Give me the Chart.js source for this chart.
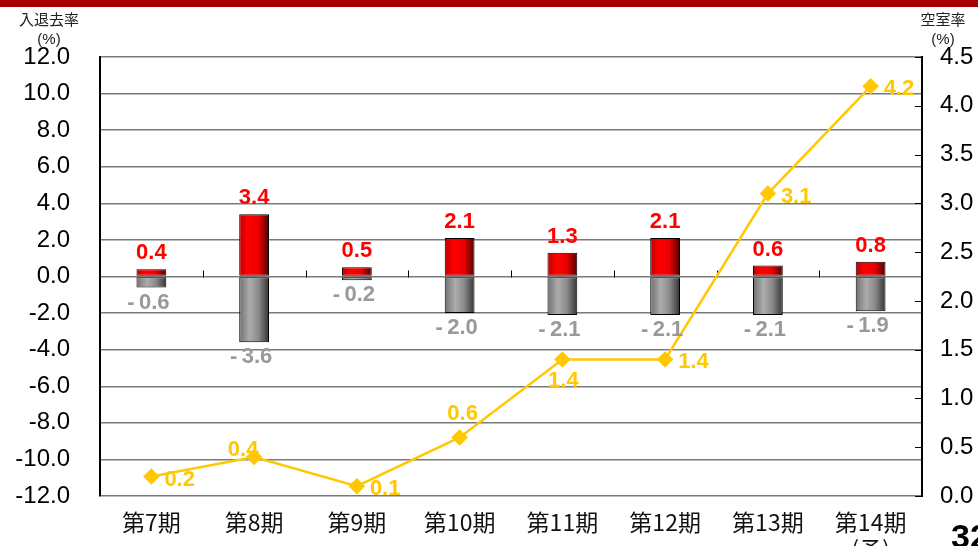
<!DOCTYPE html>
<html><head><meta charset="utf-8">
<script src="https://cdn.jsdelivr.net/npm/chart.js@4"></script>
<style>
html,body{margin:0;padding:0;background:#fff;overflow:hidden}
#wrap{position:relative;width:978px;height:546px}
#topbar{position:absolute;left:0;top:0;width:978px;height:7px;background:#a80000;z-index:2}
canvas{position:absolute;left:0;top:0}
</style></head>
<body><div id="wrap"><div id="topbar"></div><canvas id="c" width="978" height="546"></canvas></div>
<script>
const categories = ['第7期','第8期','第9期','第10期','第11期','第12期','第13期',['第14期','(予)']];
const moveInRates = [0.4, 3.4, 0.5, 2.1, 1.3, 2.1, 0.6, 0.8];
const moveOutRates = [-0.6, -3.6, -0.2, -2.0, -2.1, -2.1, -2.1, -1.9];
const vacancyRates = [0.2, 0.4, 0.1, 0.6, 1.4, 1.4, 3.1, 4.2];
const leftAxisRange = [-12, 12, 2];
const rightAxisRange = [0, 4.5, 0.5];

const lineLabelPos = ['right','aboveLeft','right','above','below','right','right','right'];
const BAR_PCT = 0.29;
const FONT = '"Liberation Sans", Arial, sans-serif';
const CJK = '"Noto Sans CJK JP", "Liberation Sans", sans-serif';

function barGradient(ctx, stops) {
  const chart = ctx.chart;
  const area = chart.chartArea;
  if (!area || ctx.dataIndex === undefined) return stops[1][1];
  const xs = chart.scales.x;
  const cx = xs.getPixelForValue(ctx.dataIndex);
  const w = (area.width / categories.length) * BAR_PCT;
  const g = chart.ctx.createLinearGradient(cx - w/2, 0, cx + w/2, 0);
  stops.forEach(s => g.addColorStop(s[0], s[1]));
  return g;
}

const extras = {
  id: 'extras',
  beforeDatasetsDraw(chart) {
    const c = chart.ctx, a = chart.chartArea;
    const y = chart.scales.y, y1 = chart.scales.y1;
    c.save();
    c.strokeStyle = '#000'; c.lineWidth = 1;
    y1.ticks.forEach(t => {
      const py = Math.round(y1.getPixelForValue(t.value)) + 0.5;
      c.beginPath(); c.moveTo(a.right - 7, py); c.lineTo(a.right, py); c.stroke();
    });
    const zy = Math.round(y.getPixelForValue(0)) + 0.5;
    for (let i = 1; i < categories.length; i++) {
      const px = Math.round(a.left + i * a.width / categories.length) + 0.5;
      c.beginPath(); c.moveTo(px, zy - 7); c.lineTo(px, zy); c.stroke();
    }
    c.restore();
  },
  afterDatasetsDraw(chart) {
    const c = chart.ctx;
    c.save();
    c.textBaseline = 'middle';
    chart.getDatasetMeta(0).data.forEach((el, i) => {
      c.font = 'bold 22px ' + FONT; c.fillStyle = '#ff0000'; c.textAlign = 'center';
      c.fillText(moveInRates[i].toFixed(1), el.x, el.y - 16);
    });
    chart.getDatasetMeta(1).data.forEach((el, i) => {
      c.font = 'bold 22px ' + FONT; c.fillStyle = '#999999'; c.textAlign = 'center';
      const v = moveOutRates[i];
      c.fillText('-\u2009' + Math.abs(v).toFixed(1), el.x - 3, el.y + 15);
    });
    chart.getDatasetMeta(2).data.forEach((el, i) => {
      c.font = 'bold 22px ' + FONT; c.fillStyle = '#FFC800';
      const t = vacancyRates[i].toFixed(1);
      const p = lineLabelPos[i];
      if (p === 'right') { c.textAlign = 'left'; c.fillText(t, el.x + 13, el.y + 3); }
      else if (p === 'aboveLeft') { c.textAlign = 'center'; c.fillText(t, el.x - 11, el.y - 7); }
      else if (p === 'above') { c.textAlign = 'center'; c.fillText(t, el.x + 3, el.y - 24); }
      else { c.textAlign = 'center'; c.fillText(t, el.x + 1, el.y + 22); }
    });
    c.restore();
  },
  afterDraw(chart) {
    const c = chart.ctx;
    c.save();
    c.fillStyle = '#222'; c.textAlign = 'center'; c.textBaseline = 'middle';
    c.font = '15px ' + CJK;
    c.fillText('入退去率', 49, 19);
    c.fillText('空室率', 943, 19);
    c.font = '15px ' + FONT;
    c.fillText('(%)', 49, 40);
    c.fillText('(%)', 943, 40);
    c.fillStyle = '#000'; c.textAlign = 'left'; c.textBaseline = 'top';
    c.font = 'bold 34px ' + FONT;
    c.fillText('32', 951, 522);
    c.restore();
  }
};

new Chart(document.getElementById('c'), {
  type: 'bar',
  data: {
    labels: categories,
    datasets: [
      { label: '入居率', data: moveInRates, stack: 's', yAxisID: 'y', order: 2,
        barPercentage: BAR_PCT, categoryPercentage: 1,
        backgroundColor: ctx => barGradient(ctx, [[0,'#c00000'],[0.3,'#ff0000'],[0.65,'#e80000'],[1,'#500000']]),
        borderColor: '#000', borderWidth: 1, borderSkipped: false },
      { label: '退去率', data: moveOutRates, stack: 's', yAxisID: 'y', order: 2,
        barPercentage: BAR_PCT, categoryPercentage: 1,
        backgroundColor: ctx => barGradient(ctx, [[0,'#707070'],[0.35,'#acacac'],[0.65,'#8a8a8a'],[1,'#343434']]),
        borderColor: '#000', borderWidth: 1, borderSkipped: false },
      { type: 'line', label: '空室率', data: vacancyRates, yAxisID: 'y1', order: 0,
        borderColor: '#FFC800', backgroundColor: '#FFC800', borderWidth: 2.5,
        pointStyle: 'rectRot', pointRadius: 6.5, pointHoverRadius: 6.5, tension: 0 }
    ]
  },
  options: {
    responsive: false, animation: false, devicePixelRatio: 1,
    layout: { padding: { top: 57, left: 0, right: 0, bottom: 0 } },
    plugins: { legend: { display: false }, tooltip: { enabled: false } },
    scales: {
      x: {
        stacked: true,
        grid: { display: false, drawTicks: false },
        border: { display: false },
        ticks: { color: '#111', font: { family: CJK, size: 23 }, padding: 12, maxRotation: 0, autoSkip: false },
        afterFit(s) { s.height = 50; }
      },
      y: {
        stacked: true, position: 'left',
        min: leftAxisRange[0], max: leftAxisRange[1],
        ticks: { stepSize: leftAxisRange[2], color: '#000', font: { family: FONT, size: 24 }, padding: 30,
                 callback: v => v.toFixed(1) },
        grid: { color: '#7a7a7a', lineWidth: 1.5, drawTicks: false },
        border: { display: true, color: '#000', width: 2 },
        afterFit(s) { s.width = 100; }
      },
      y1: {
        position: 'right',
        min: rightAxisRange[0], max: rightAxisRange[1],
        ticks: { stepSize: rightAxisRange[2], color: '#000', font: { family: FONT, size: 24 }, padding: 18,
                 callback: v => v.toFixed(1) },
        grid: { drawOnChartArea: false, drawTicks: false },
        border: { display: true, color: '#000', width: 2 },
        afterFit(s) { s.width = 56; }
      }
    }
  },
  plugins: [extras]
});
</script>
</body></html>
